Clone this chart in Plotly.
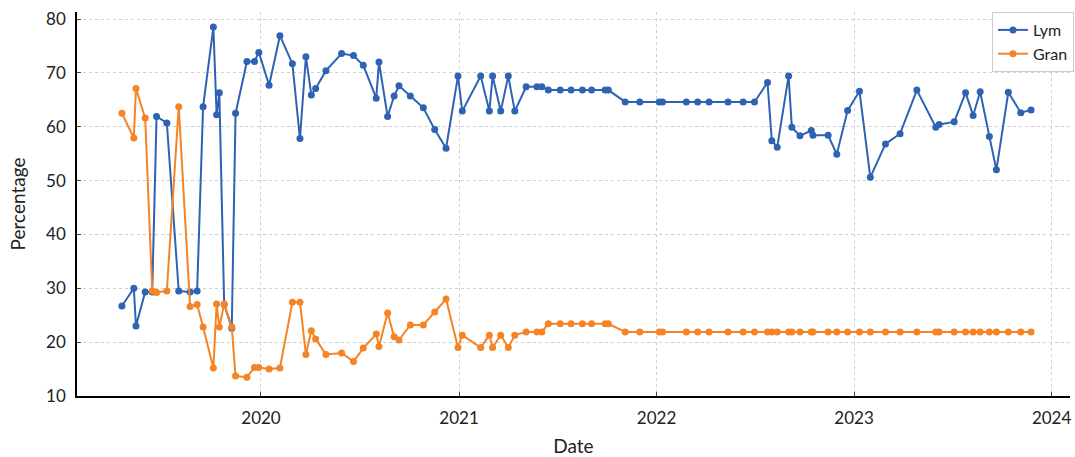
import plotly.graph_objects as go

# Sample dates (shared by both series)
dates = [
    "2019-04-19", "2019-05-11", "2019-05-15", "2019-06-01", "2019-06-14", "2019-06-22",
    "2019-07-11", "2019-08-02", "2019-08-23", "2019-09-05", "2019-09-16", "2019-10-05",
    "2019-10-11", "2019-10-16", "2019-10-25", "2019-11-08", "2019-11-15", "2019-12-06",
    "2019-12-20", "2019-12-28",
    "2020-01-16", "2020-02-05", "2020-02-28", "2020-03-13", "2020-03-24", "2020-04-03",
    "2020-04-11", "2020-04-30", "2020-05-29", "2020-06-20", "2020-07-08", "2020-08-01",
    "2020-08-06", "2020-08-22", "2020-09-03", "2020-09-12", "2020-10-03", "2020-10-27",
    "2020-11-17", "2020-12-08", "2020-12-30",
    "2021-01-07", "2021-02-10", "2021-02-26", "2021-03-04", "2021-03-19", "2021-04-02",
    "2021-04-14", "2021-05-05", "2021-05-25", "2021-06-03", "2021-06-15", "2021-07-07",
    "2021-07-27", "2021-08-17", "2021-09-03", "2021-09-28", "2021-10-04", "2021-11-04",
    "2021-12-01",
    "2022-01-06", "2022-01-12", "2022-02-25", "2022-03-18", "2022-04-08", "2022-05-13",
    "2022-06-10", "2022-07-01", "2022-07-25", "2022-08-02", "2022-08-12", "2022-09-02",
    "2022-09-08", "2022-09-23", "2022-10-14", "2022-10-17", "2022-11-14", "2022-11-30",
    "2022-12-20",
    "2023-01-11", "2023-01-31", "2023-02-28", "2023-03-27", "2023-04-27", "2023-06-01",
    "2023-06-07", "2023-07-05", "2023-07-26", "2023-08-09", "2023-08-22", "2023-09-08",
    "2023-09-21", "2023-10-13", "2023-11-05", "2023-11-24",
]

# Lymphocyte percentage
lym = [
    26.7, 30.0, 23.0, 29.3, 29.3, 61.9, 60.7, 29.5, 29.3, 29.5, 63.7, 78.5,
    62.2, 66.3, 27.0, 22.6, 62.5, 72.1, 72.1, 73.8,
    67.7, 76.9, 71.7, 57.8, 73.0, 65.9, 67.1, 70.4, 73.6, 73.2, 71.4, 65.3,
    72.0, 61.9, 65.7, 67.6, 65.7, 63.5, 59.5, 56.0, 69.4,
    62.9, 69.4, 62.9, 69.4, 62.9, 69.4, 62.9, 67.4, 67.4, 67.4, 66.8, 66.8,
    66.8, 66.8, 66.8, 66.8, 66.8, 64.6, 64.6,
    64.6, 64.6, 64.6, 64.6, 64.6, 64.6, 64.6, 64.6, 68.2, 57.4, 56.2, 69.4,
    59.9, 58.3, 59.3, 58.4, 58.4, 54.9, 63.0,
    66.6, 50.6, 56.8, 58.7, 66.8, 59.9, 60.4, 60.9, 66.3, 62.1, 66.5, 58.2,
    52.0, 66.4, 62.6, 63.1,
]

# Granulocyte percentage
gran = [
    62.5, 57.9, 67.1, 61.6, 29.5, 29.2, 29.5, 63.7, 26.6, 27.0, 22.8, 15.2,
    27.1, 22.8, 27.1, 22.8, 13.7, 13.5, 15.3, 15.3,
    15.0, 15.2, 27.4, 27.4, 17.7, 22.1, 20.6, 17.7, 18.0, 16.4, 18.9, 21.5,
    19.2, 25.4, 21.0, 20.4, 23.2, 23.2, 25.6, 28.0, 19.0,
    21.3, 19.0, 21.3, 19.0, 21.3, 19.0, 21.3, 21.9, 21.9, 21.9, 23.4, 23.4,
    23.4, 23.4, 23.4, 23.4, 23.4, 21.9, 21.9,
    21.9, 21.9, 21.9, 21.9, 21.9, 21.9, 21.9, 21.9, 21.9, 21.9, 21.9, 21.9,
    21.9, 21.9, 21.9, 21.9, 21.9, 21.9, 21.9,
    21.9, 21.9, 21.9, 21.9, 21.9, 21.9, 21.9, 21.9, 21.9, 21.9, 21.9, 21.9,
    21.9, 21.9, 21.9, 21.9,
]

BLUE = "#2e62b3"
ORANGE = "#f58426"
FONT = "Lato"

fig = go.Figure()
fig.add_trace(go.Scatter(
    x=dates, y=lym, name="Lym", mode="lines+markers",
    line=dict(color=BLUE, width=2), marker=dict(color=BLUE, size=7),
))
fig.add_trace(go.Scatter(
    x=dates, y=gran, name="Gran", mode="lines+markers",
    line=dict(color=ORANGE, width=2), marker=dict(color=ORANGE, size=7),
))

grid = dict(showgrid=True, gridcolor="#cfcfcf", griddash="dot", gridwidth=1)

fig.update_layout(
    width=1075, height=457,
    margin=dict(l=77, r=1, t=12, b=61),
    paper_bgcolor="white", plot_bgcolor="white",
    font=dict(family=FONT, size=17, color="#222222"),
    showlegend=True,
    legend=dict(
        x=1.004, y=1, xanchor="right", yanchor="top",
        bgcolor="white", bordercolor="#cccccc", borderwidth=1,
        font=dict(size=16), itemwidth=30, tracegroupgap=0,
    ),
    xaxis=dict(
        type="date", range=["2019-01-26", "2024-02-04"],
        tick0="2020-01-01", dtick="M12", tickformat="%Y",
        ticks="inside", ticklen=4, tickcolor="#444444",
        showline=True, linecolor="black", linewidth=1.5,
        zeroline=False, ticklabelstandoff=6, ticklabeloverflow="allow",
        title=dict(text="Date", font=dict(size=19), standoff=16),
        **grid,
    ),
    yaxis=dict(
        range=[10, 81.3], tick0=10, dtick=10,
        ticks="inside", ticklen=4, tickcolor="#444444",
        showline=True, linecolor="black", linewidth=1.5,
        zeroline=False, ticklabelstandoff=6,
        title=dict(text="Percentage", font=dict(size=19), standoff=15),
        **grid,
    ),
)

fig.write_html("out.html")
